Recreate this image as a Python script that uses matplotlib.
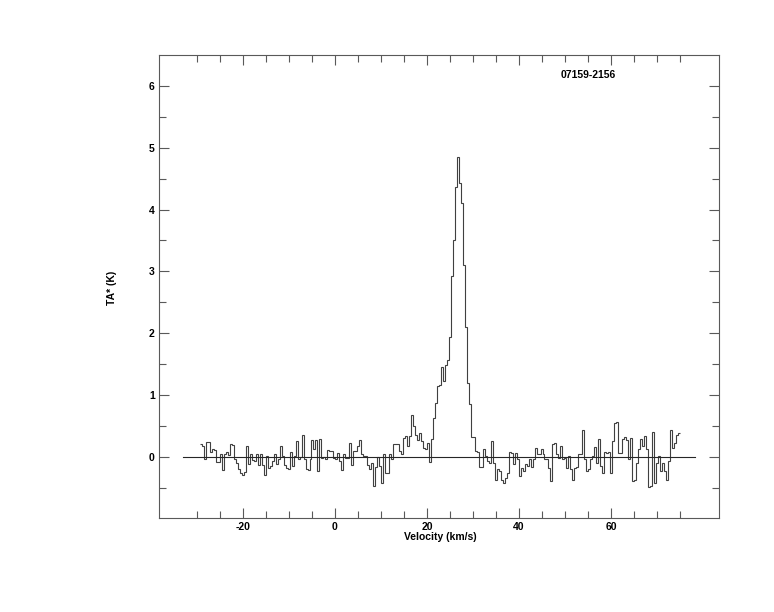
import numpy as np
import matplotlib.pyplot as plt

t_part1 = [0.20, 0.17, -0.03, 0.24, 0.24, 0.08, 0.12, 0.11, -0.09, -0.09,
           0.04, -0.22, 0.05, 0.08, 0.03, 0.21, 0.19, -0.03, -0.10, -0.20,
           -0.26, -0.29, -0.25, 0.18, -0.11, 0.04, -0.05, -0.07, 0.05, -0.14,
           0.05, -0.14, -0.30, 0.02, -0.18, -0.15, -0.07, 0.05, -0.12, -0.04,
           0.17, 0.01, -0.13, -0.18, -0.20, 0.08, -0.15, 0.01, 0.25, -0.03,
           0.00, 0.36, -0.03, -0.20, -0.22, -0.04, 0.27, 0.12, 0.27, -0.23,
           0.28]
t_part2 = [-0.02, 0.00, -0.03, 0.11, 0.10, 0.09, -0.02, -0.03, 0.06, -0.07,
           -0.22, 0.05, -0.02, -0.02, 0.23, -0.14, 0.09, 0.10, 0.17, 0.27,
           0.05, 0.01, 0.01, -0.14, -0.20, -0.10, -0.47, -0.17, 0.00, -0.15,
           -0.42, 0.04, -0.27, -0.26, 0.04, -0.04, 0.20, 0.20, 0.20, 0.09,
           0.05, 0.31, 0.33, 0.17, 0.33]
t_peak = [0.67, 0.50, 0.36, 0.27, 0.39, 0.25, 0.15, 0.12, 0.23, -0.09,
          0.28, 0.63, 0.87, 1.14, 1.16, 1.45, 1.22, 1.48, 1.57, 1.94,
          2.93, 3.50, 4.37, 4.85, 4.43, 4.11, 3.10, 2.10, 1.20, 0.86,
          0.32, 0.32, 0.09, 0.08, -0.16, -0.17, 0.12, 0.01]
t_part4 = [-0.07, -0.10, 0.25, -0.10, -0.37, -0.20, -0.23, -0.38, -0.42, -0.34,
           -0.26, 0.08, 0.06, -0.12, 0.06, -0.04, -0.31, -0.18, -0.23, -0.12,
           -0.15, -0.03, -0.16, -0.04, 0.15, 0.05, 0.05, 0.13, 0.05, -0.03,
           -0.04, -0.18, -0.39, 0.20, 0.23, 0.05, -0.02, 0.17, -0.03, -0.02,
           -0.18, 0.01, -0.20, -0.37, -0.18, -0.17, 0.04, 0.05, 0.44, -0.03,
           -0.23, -0.20, -0.04, 0.01, 0.16, -0.10, 0.28]
t_part5 = [-0.15, -0.26, 0.08, 0.06, 0.07, -0.26, 0.25, 0.55, 0.57, 0.06,
           0.06, 0.29, 0.32, 0.27, -0.03, 0.31, -0.39, -0.37, -0.10, 0.13,
           0.29, 0.17, 0.33, 0.13, -0.49, -0.47, 0.40, -0.42, -0.10, 0.01,
           -0.23, -0.10, -0.23, -0.37, -0.07, 0.43, 0.15, 0.23, 0.35, 0.38]

ta = np.array(t_part1 + t_part2 + t_peak + t_part4 + t_part5)
v_start, v_end = -29.35, 75.0
edges = np.linspace(v_start, v_end, len(ta) + 1)

source = '07159-2156'
baseline_range = [-33.0, 78.3]

plt.rcParams['font.family'] = ['Liberation Sans', 'DejaVu Sans']
plt.rcParams['font.weight'] = 'bold'
plt.rcParams['axes.unicode_minus'] = False

fig = plt.figure(figsize=(7.74, 6.12), dpi=100)
ax = fig.add_axes([159/774, 1 - 518/612, 560/774, 463/612])

ax.stairs(ta, edges, baseline=None, color='0.25', lw=0.8)
ax.plot(baseline_range, [0, 0], color='0.15', lw=0.8)

ax.set_xlim(-38.26, 83.5)
ax.set_ylim(-0.99, 6.5)
ax.set_xticks([-20, 0, 20, 40, 60])
ax.set_xticks(np.arange(-30, 80, 5), minor=True)
ax.set_yticks([0, 1, 2, 3, 4, 5, 6])
ax.set_yticks(np.arange(-0.5, 6.5, 0.5), minor=True)
ax.tick_params(which='both', direction='in', top=True, right=True,
               color='0.35', width=0.8, labelsize=7.5)
ax.tick_params(which='major', length=7.5)
ax.tick_params(which='minor', length=5)
ax.tick_params(axis='x', pad=3)
ax.tick_params(axis='y', pad=3)
for sp in ax.spines.values():
    sp.set_color('0.35')
    sp.set_linewidth(0.8)

ax.text(55.0, 6.17, source, ha='center', va='center', fontsize=7.5, fontweight='bold')
fig.text(440/774, 1 - 537/612, 'Velocity (km/s)', ha='center', va='center',
         fontsize=7.5, fontweight='bold')
fig.text(112/774, 1 - 288/612, 'TA* (K)', ha='center', va='center',
         rotation=90, fontsize=7.5, fontweight='bold')

plt.savefig('out.png', dpi=100)
